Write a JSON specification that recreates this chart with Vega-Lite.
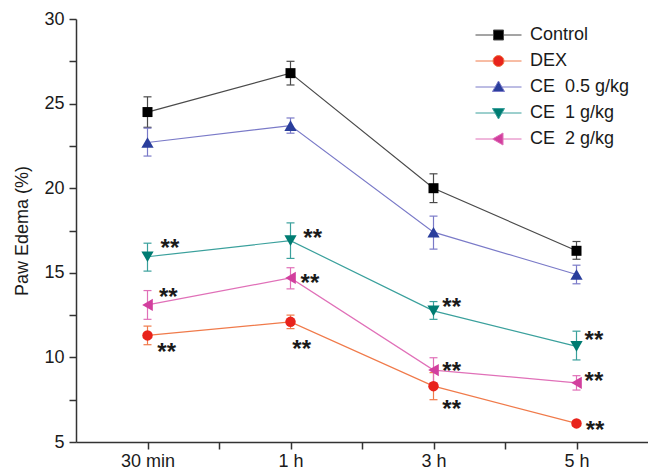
{
  "$schema": "https://vega.github.io/schema/vega-lite/v6.json",
  "width": 572,
  "height": 423,
  "autosize": {"type": "none"},
  "padding": {"left": 76, "top": 19, "right": 0, "bottom": 31},
  "background": "white",
  "config": {
    "view": {"stroke": null},
    "font": "Liberation Sans",
    "axis": {
      "grid": false,
      "domainColor": "#333333",
      "tickColor": "#333333",
      "domainWidth": 1.5,
      "tickWidth": 1.5,
      "tickSize": 7,
      "labelFontSize": 18,
      "labelColor": "#1a1a1a",
      "labelFont": "Liberation Sans",
      "titleFont": "Liberation Sans",
      "labelOverlap": false,
      "labelFlush": false,
      "labelBound": false
    },
    "legend": {
      "orient": "none",
      "legendX": 413.5,
      "legendY": 7,
      "padding": 0,
      "rowPadding": 8,
      "symbolSize": 100,
      "symbolStrokeWidth": 1,
      "labelFontSize": 18,
      "labelColor": "#1a1a1a",
      "labelOffset": 22.5,
      "labelFont": "Liberation Sans"
    }
  },
  "datasets": {
    "series": [
      {"group": "Control", "t": 1, "value": 24.5, "lo": 23.6, "hi": 25.4},
      {"group": "Control", "t": 2, "value": 26.8, "lo": 26.1, "hi": 27.5},
      {"group": "Control", "t": 3, "value": 20.0, "lo": 19.15, "hi": 20.85},
      {"group": "Control", "t": 4, "value": 16.3, "lo": 15.8, "hi": 16.85},
      {"group": "DEX", "t": 1, "value": 11.3, "lo": 10.75, "hi": 11.85},
      {"group": "DEX", "t": 2, "value": 12.1, "lo": 11.7, "hi": 12.5},
      {"group": "DEX", "t": 3, "value": 8.3, "lo": 7.5, "hi": 9.1},
      {"group": "DEX", "t": 4, "value": 6.1, "lo": 5.95, "hi": 6.25},
      {"group": "CE\u00a0 0.5 g/kg", "t": 1, "value": 22.7, "lo": 21.9, "hi": 23.55},
      {"group": "CE\u00a0 0.5 g/kg", "t": 2, "value": 23.7, "lo": 23.25, "hi": 24.15},
      {"group": "CE\u00a0 0.5 g/kg", "t": 3, "value": 17.4, "lo": 16.4, "hi": 18.35},
      {"group": "CE\u00a0 0.5 g/kg", "t": 4, "value": 14.9, "lo": 14.35, "hi": 15.45},
      {"group": "CE\u00a0 1 g/kg", "t": 1, "value": 15.95, "lo": 15.1, "hi": 16.75},
      {"group": "CE\u00a0 1 g/kg", "t": 2, "value": 16.9, "lo": 15.85, "hi": 17.95},
      {"group": "CE\u00a0 1 g/kg", "t": 3, "value": 12.75, "lo": 12.25, "hi": 13.3},
      {"group": "CE\u00a0 1 g/kg", "t": 4, "value": 10.65, "lo": 9.85, "hi": 11.55},
      {"group": "CE\u00a0 2 g/kg", "t": 1, "value": 13.1, "lo": 12.25, "hi": 13.95},
      {"group": "CE\u00a0 2 g/kg", "t": 2, "value": 14.7, "lo": 14.05, "hi": 15.3},
      {"group": "CE\u00a0 2 g/kg", "t": 3, "value": 9.25, "lo": 8.5, "hi": 9.98},
      {"group": "CE\u00a0 2 g/kg", "t": 4, "value": 8.5, "lo": 8.07, "hi": 8.92}
    ],
    "stars": [
      {"t": 1.157, "value": 16.84},
      {"t": 1.145, "value": 13.94},
      {"t": 1.134, "value": 10.69},
      {"t": 2.155, "value": 17.43},
      {"t": 2.136, "value": 14.77},
      {"t": 2.078, "value": 10.83},
      {"t": 3.127, "value": 13.35},
      {"t": 3.127, "value": 9.55},
      {"t": 3.127, "value": 7.29},
      {"t": 4.122, "value": 11.38},
      {"t": 4.122, "value": 8.96},
      {"t": 4.13, "value": 6.06}
    ]
  },
  "encoding": {
    "x": {
      "field": "t",
      "type": "quantitative",
      "scale": {"domain": [0.5, 4.5], "nice": false, "zero": false},
      "axis": {
        "title": null,
        "values": [1, 1.5, 2, 2.5, 3, 3.5, 4],
        "labelExpr": "datum.value == 1 ? '30 min' : datum.value == 2 ? '1 h' : datum.value == 3 ? '3 h' : datum.value == 4 ? '5 h' : ''",
        "labelPadding": 3,
        "encode": {"ticks": {"update": {"y2": {"signal": "datum.value % 1 == 0 ? 7 : 4"}}}}
      }
    },
    "y": {
      "field": "value",
      "type": "quantitative",
      "scale": {"domain": [5, 30], "nice": false, "zero": false},
      "title": "Paw Edema (%)",
      "axis": {
        "title": "Paw Edema (%)",
        "titleFontSize": 18,
        "titleFontWeight": "normal",
        "titleColor": "#1a1a1a",
        "titlePadding": 12,
        "values": [5, 7.5, 10, 12.5, 15, 17.5, 20, 22.5, 25, 27.5, 30],
        "labelExpr": "datum.value % 5 == 0 ? datum.label : ''",
        "labelPadding": 5,
        "encode": {"ticks": {"update": {"x2": {"signal": "datum.value % 5 == 0 ? -7 : -4"}}}}
      }
    }
  },
  "layer": [
    {
      "data": {"name": "series"},
      "mark": {"type": "rule", "strokeWidth": 1.2},
      "encoding": {
        "y": {"field": "lo", "type": "quantitative", "scale": {"domain": [5, 30], "nice": false, "zero": false}, "title": "Paw Edema (%)"},
        "y2": {"field": "hi"},
        "color": {
          "field": "group",
          "type": "nominal",
          "scale": {
            "domain": ["Control", "DEX", "CE\u00a0 0.5 g/kg", "CE\u00a0 1 g/kg", "CE\u00a0 2 g/kg"],
            "range": ["#4a4a4a", "#f07a4a", "#7a7ac8", "#3aa09c", "#e070b8"]
          },
          "legend": {
            "title": null,
            "encode": {
              "symbols": {
                "update": {
                  "shape": {"signal": "['M-4.6,0H-1M1,0H4.6M-1,-1H1V1H-1Z','M-4.6,0H-1.1M1.1,0H4.6M-1.1,0A1.1,1.1,0,1,1,1.1,0A1.1,1.1,0,1,1,-1.1,0Z','M-4.6,0H-0.69M0.69,0H4.6M0,-1.2L1.2,0.9L-1.2,0.9Z','M-4.6,0H-0.69M0.69,0H4.6M0,1.2L1.2,-0.9L-1.2,-0.9Z','M-4.6,0H-1.2M0.9,0H4.6M-1.2,0L0.9,-1.2L0.9,1.2Z'][indexof(['Control','DEX','CE\u00a0 0.5 g/kg','CE\u00a0 1 g/kg','CE\u00a0 2 g/kg'], datum.value)]"},
                  "fill": {"signal": "['#000000','#e8231c','#2a3e9c','#007c72','#d23f9e'][indexof(['Control','DEX','CE\u00a0 0.5 g/kg','CE\u00a0 1 g/kg','CE\u00a0 2 g/kg'], datum.value)]"},
                  "fillOpacity": {"value": 1},
                  "strokeWidth": {"value": 1},
                  "opacity": {"value": 1},
                  "size": {"value": 100}
                }
              }
            }
          }
        }
      }
    },
    {
      "data": {"name": "series"},
      "mark": {"type": "point", "shape": "M-1,0H1", "size": 64, "strokeWidth": 1.2, "opacity": 1},
      "encoding": {
        "y": {"field": "lo", "type": "quantitative", "scale": {"domain": [5, 30], "nice": false, "zero": false}, "title": "Paw Edema (%)"},
        "color": {"field": "group", "type": "nominal"}
      }
    },
    {
      "data": {"name": "series"},
      "mark": {"type": "point", "shape": "M-1,0H1", "size": 64, "strokeWidth": 1.2, "opacity": 1},
      "encoding": {
        "y": {"field": "hi", "type": "quantitative", "scale": {"domain": [5, 30], "nice": false, "zero": false}, "title": "Paw Edema (%)"},
        "color": {"field": "group", "type": "nominal"}
      }
    },
    {
      "data": {"name": "series"},
      "mark": {"type": "line", "strokeWidth": 1.2},
      "encoding": {
        "color": {"field": "group", "type": "nominal"}
      }
    },
    {
      "data": {"name": "series"},
      "transform": [{"filter": {"field": "group", "equal": "Control"}}],
      "mark": {"type": "point", "filled": true, "opacity": 1, "strokeWidth": 0, "shape": "square", "size": 100, "fill": "#000000"}
    },
    {
      "data": {"name": "series"},
      "transform": [{"filter": {"field": "group", "equal": "DEX"}}],
      "mark": {"type": "point", "filled": true, "opacity": 1, "strokeWidth": 0, "shape": "circle", "size": 110, "fill": "#e8231c"}
    },
    {
      "data": {"name": "series"},
      "transform": [{"filter": {"field": "group", "equal": "CE\u00a0 0.5 g/kg"}}],
      "mark": {"type": "point", "filled": true, "opacity": 1, "strokeWidth": 0, "shape": "triangle-up", "size": 150, "fill": "#2a3e9c"}
    },
    {
      "data": {"name": "series"},
      "transform": [{"filter": {"field": "group", "equal": "CE\u00a0 1 g/kg"}}],
      "mark": {"type": "point", "filled": true, "opacity": 1, "strokeWidth": 0, "shape": "triangle-down", "size": 150, "fill": "#007c72"}
    },
    {
      "data": {"name": "series"},
      "transform": [{"filter": {"field": "group", "equal": "CE\u00a0 2 g/kg"}}],
      "mark": {"type": "point", "filled": true, "opacity": 1, "strokeWidth": 0, "shape": "triangle-left", "size": 150, "fill": "#d23f9e"}
    },
    {
      "data": {"name": "stars"},
      "mark": {"type": "text", "text": "**", "font": "Liberation Sans", "fontWeight": "bold", "fontSize": 24, "align": "center", "baseline": "alphabetic", "dy": 14, "color": "#1a1a1a"}
    }
  ]
}
